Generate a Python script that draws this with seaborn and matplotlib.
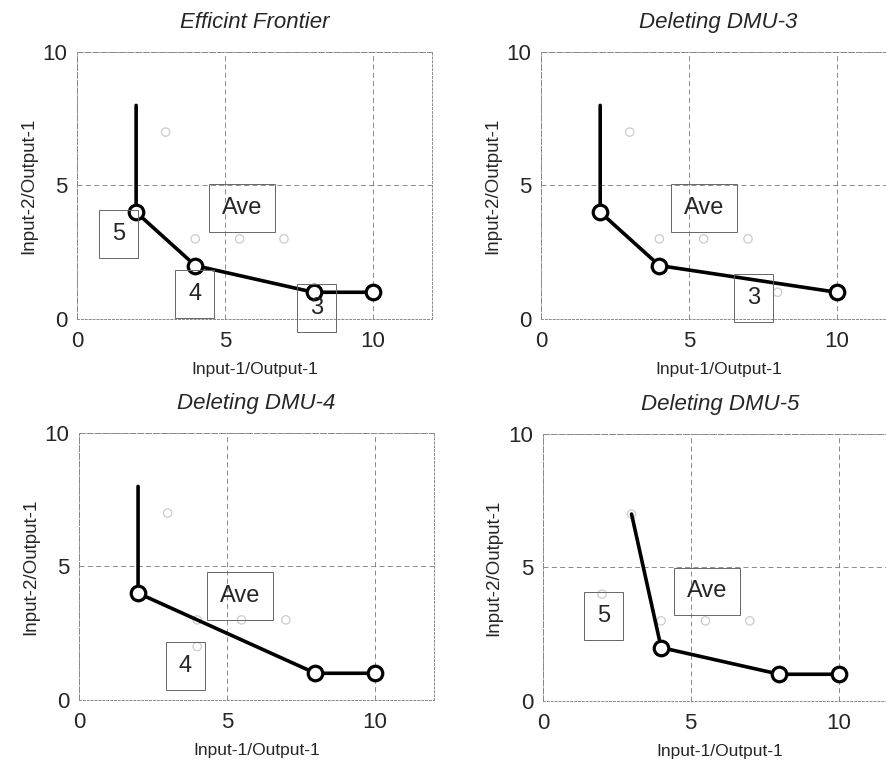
import matplotlib
matplotlib.use('Agg')
import matplotlib.pyplot as plt
import seaborn as sns
import pandas as pd

# DMU data (input-1/output-1, input-2/output-1)
dmu_x = [2, 4, 8, 10, 3, 4, 5.5, 7]
dmu_y = [4, 2, 1, 1, 7, 3, 3, 3]

titles = ['Efficint Frontier', 'Deleting DMU-3', 'Deleting DMU-4', 'Deleting DMU-5']

# frontier polylines for each panel (first point has no marker)
front_x = [[2, 2, 4, 8, 10], [2, 2, 4, 10], [2, 2, 8, 10], [3, 4, 8, 10]]
front_y = [[8, 4, 2, 1, 1], [8, 4, 2, 1], [8, 4, 1, 1], [7, 2, 1, 1]]

# text boxes: label, x, y
labels = [
    [('5', 1.41, 3.18), ('Ave', 5.58, 4.14), ('4', 3.98, 0.95), ('3', 8.1, 0.42)],
    [('Ave', 5.51, 4.14), ('3', 7.2, 0.77)],
    [('Ave', 5.44, 3.9), ('4', 3.6, 1.27)],
    [('Ave', 5.55, 4.1), ('5', 2.06, 3.18)],
]

sns.set_style('white')
plt.rcParams['font.family'] = ['Liberation Sans', 'DejaVu Sans']

fig = plt.figure(figsize=(8.87, 7.62), dpi=100)
positions = [
    [0.0868, 0.5814, 0.400, 0.3504],
    [0.610, 0.5814, 0.400, 0.3504],
    [0.089, 0.0814, 0.400, 0.3504],
    [0.612, 0.0801, 0.400, 0.3504],
]

pts = pd.DataFrame({'x': dmu_x, 'y': dmu_y})

for i in range(4):
    ax = fig.add_axes(positions[i])
    # faint DMU points
    sns.scatterplot(x='x', y='y', data=pts, ax=ax, marker='o', s=36,
                    facecolor='none', edgecolor='#cccccc', linewidth=0.9,
                    zorder=2, legend=False)
    fr = pd.DataFrame({'x': front_x[i], 'y': front_y[i]})
    sns.lineplot(x='x', y='y', data=fr, ax=ax, sort=False, color='black',
                 linewidth=2.6, zorder=3, estimator=None)
    sns.scatterplot(x='x', y='y', data=fr.iloc[1:], ax=ax, marker='o', s=110,
                    color='white', edgecolor='black', linewidth=2.3,
                    zorder=4, legend=False)
    for txt, tx, ty in labels[i]:
        ax.text(tx, ty, txt, ha='center', va='center', fontsize=17, zorder=5,
                bbox=dict(boxstyle='square,pad=0.55', fc='none',
                          ec='#666666', lw=0.7))
    ax.set_xlim(0, 12)
    ax.set_ylim(0, 10)
    ax.set_xticks([0, 5, 10])
    ax.set_yticks([0, 5, 10])
    ax.tick_params(axis='both', length=0, labelsize=16, pad=7)
    ax.tick_params(axis='x', pad=9)
    ax.grid(True, linestyle=(0, (6, 4)), color='#777777', linewidth=0.6)
    for sp in ax.spines.values():
        sp.set_color('#888888')
        sp.set_linewidth(0.7)
        sp.set_linestyle((0, (2, 2)))
    ax.set_title(titles[i], fontsize=16, style='italic', pad=17)
    ax.set_xlabel('Input-1/Output-1', fontsize=12.5, labelpad=7)
    ax.set_ylabel('Input-2/Output-1', fontsize=13.5, labelpad=4)

fig.savefig('out.png', dpi=100)
